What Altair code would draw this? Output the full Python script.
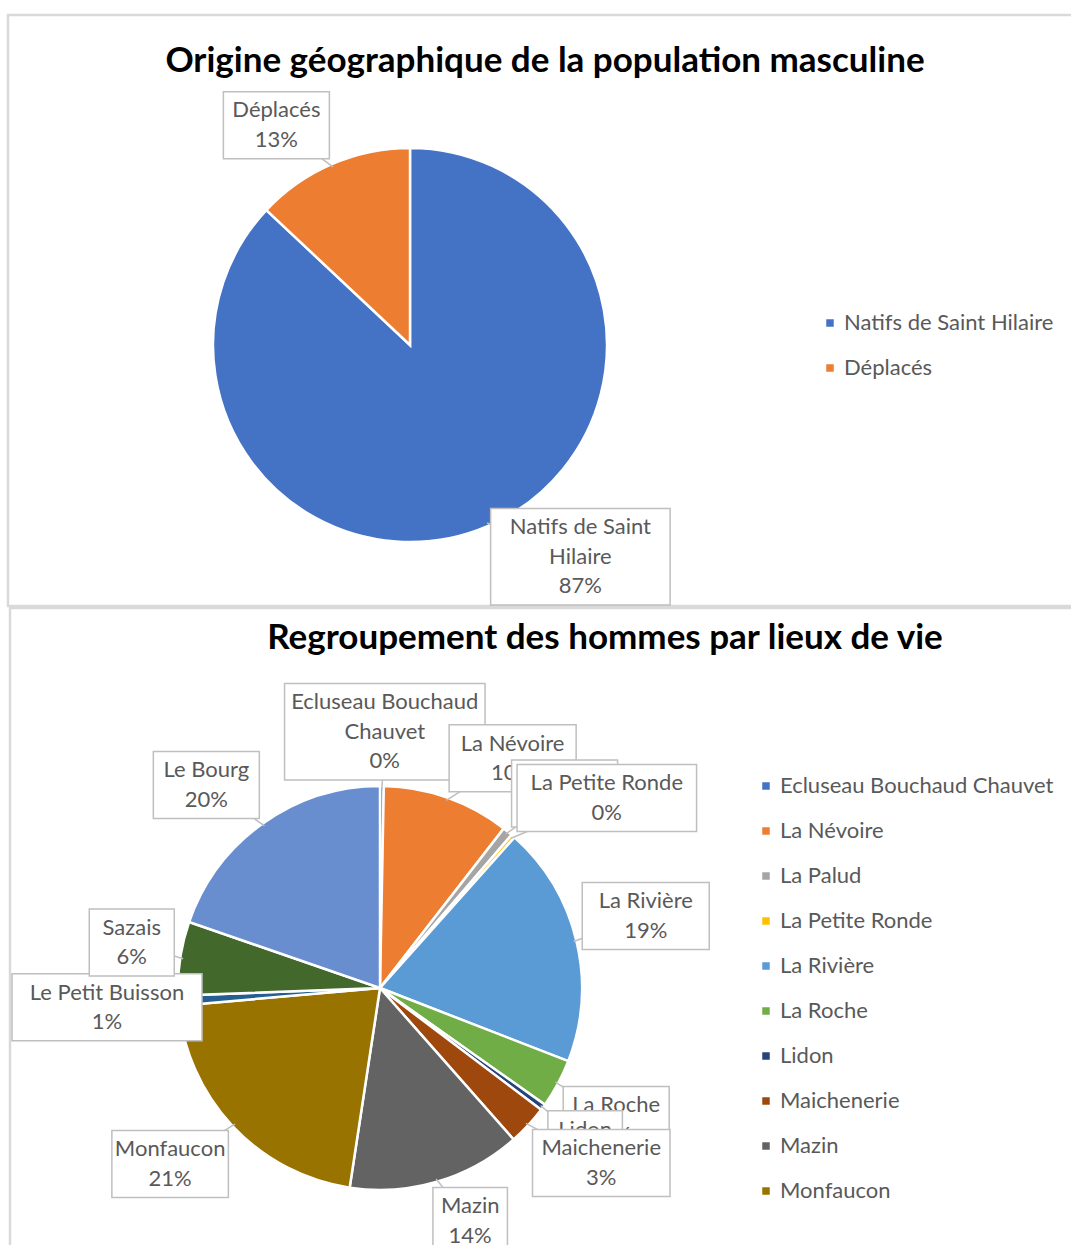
import textwrap
import altair as alt
import pandas as pd

W, H = 1071, 1245

# ---------------- data ----------------
title_top = "Origine géographique de la population masculine"
origin_names = ["Natifs de Saint Hilaire", "Déplacés"]
origin_values = [87, 13]
origin_colors = ["#4472C4", "#ED7D31"]

title_bottom = "Regroupement des hommes par lieux de vie"
place_names = ["Ecluseau Bouchaud Chauvet", "La Névoire", "La Palud", "La Petite Ronde",
               "La Rivière", "La Roche", "Lidon", "Maichenerie", "Mazin", "Monfaucon",
               "Le Petit Buisson", "Sazais", "Le Bourg"]
place_values = [0.3, 10.2, 0.8, 0.3, 19.3, 3.9, 0.5, 3.2, 13.9, 21.2, 0.8, 5.9, 19.7]
place_colors = ["#4472C4", "#ED7D31", "#A5A5A5", "#FFC000", "#5B9BD5", "#70AD47",
                "#264478", "#9E480E", "#636363", "#997300", "#255E91", "#43682B", "#698ED0"]
place_legend_shown = place_names[:10]

FONT = "Lato"
FS = 22
LH = 29.5
TXT = "#595959"
LINE = "#BFBFBF"
FRAME = "#D9D9D9"

xs = alt.Scale(domain=[0, W], nice=False, zero=False)
ys = alt.Scale(domain=[0, H], reverse=True, nice=False, zero=False)


def make_df(names, values):
    rows = []
    for i, (n, v) in enumerate(zip(names, values)):
        lines = textwrap.wrap(n, 17)
        rows.append({
            "idx": i, "name": n, "value": v,
            "wrapped": "\n".join(lines),
            "nlines": len(lines) + 1,
            "maxlen": max(len(s) for s in lines + ["100%"]),
        })
    return pd.DataFrame(rows)


def pie(df, cx, cy, R, names, colors, lx, ly, shown):
    return alt.Chart(df).mark_arc(radius=R, stroke="white", strokeWidth=2.5).encode(
        theta=alt.Theta("value:Q", stack=True),
        order=alt.Order("idx:Q", sort="ascending"),
        color=alt.Color("name:N", scale=alt.Scale(domain=names, range=colors),
                        legend=alt.Legend(title=None, orient="none", legendX=lx, legendY=ly,
                                          symbolType="square", symbolSize=56,
                                          symbolStrokeWidth=0, labelFont=FONT,
                                          labelFontSize=FS, labelColor=TXT,
                                          labelOffset=3, rowPadding=23, padding=0,
                                          labelLimit=500, values=shown)),
        x=alt.value(cx), y=alt.value(cy),
    )


def callouts(df, cx, cy, R, area):
    left, top, right, bottom = area
    g = R + 6
    base = alt.Chart(df).transform_joinaggregate(
        total="sum(value)"
    ).transform_window(
        cum="sum(value)", sort=[alt.SortField("idx", order="ascending")], frame=[None, 0]
    ).transform_calculate(
        mid="(datum.cum - datum.value/2) / datum.total * 2 * PI",
        px=f"{cx} + {g} * sin(datum.mid)",
        py=f"{cy} - {g} * cos(datum.mid)",
        ex=f"{cx} + {R - 3} * sin(datum.mid)",
        ey=f"{cy} - {R - 3} * cos(datum.mid)",
        fx="clamp(3 * sin(datum.mid), -1, 1)",
        fy="clamp(-3 * cos(datum.mid), -1, 1)",
        w="datum.maxlen * 10.5 + 22",
        h=f"datum.nlines * {LH} + 8",
    ).transform_calculate(
        bx=f"clamp(datum.px + datum.fx * datum.w / 2, {left} + datum.w / 2, {right} - datum.w / 2)",
        by=f"clamp(datum.py + datum.fy * datum.h / 2, {top} + datum.h / 2, {bottom} - datum.h / 2)",
        lab="datum.wrapped + '\\n' + format(datum.value / datum.total, '.0%')",
    ).transform_calculate(
        bx1="datum.bx - datum.w / 2", bx2="datum.bx + datum.w / 2",
        by1="datum.by - datum.h / 2", by2="datum.by + datum.h / 2",
        ty=f"datum.by - (datum.nlines - 1) / 2 * {LH}",
    )
    layers = []
    for i in range(len(df)):
        b = base.transform_filter(f"datum.idx == {i}")
        layers.append(b.mark_rule(color=LINE, strokeWidth=1.5).encode(
            x=alt.X("ex:Q", scale=xs, axis=None), y=alt.Y("ey:Q", scale=ys, axis=None),
            x2="bx:Q", y2="by:Q"))
        layers.append(b.mark_rect(fill="white", stroke=LINE, strokeWidth=1.5).encode(
            x=alt.X("bx1:Q", scale=xs, axis=None), x2="bx2:Q",
            y=alt.Y("by1:Q", scale=ys, axis=None), y2="by2:Q"))
        layers.append(b.mark_text(font=FONT, fontSize=FS, color=TXT, lineBreak="\n",
                                  lineHeight=LH, align="center", baseline="middle").encode(
            x=alt.X("bx:Q", scale=xs, axis=None), y=alt.Y("ty:Q", scale=ys, axis=None),
            text="lab:N"))
    return layers


frame_df = pd.DataFrame({"k": [0]})


def frame(x0, y0, x1, y1):
    return alt.Chart(frame_df).mark_rect(fill="white", stroke=FRAME, strokeWidth=2.5).encode(
        x=alt.value(x0), x2=alt.value(x1), y=alt.value(y0), y2=alt.value(y1))


def title(text, x, y):
    return alt.Chart(frame_df).mark_text(font=FONT, fontSize=35, fontWeight="bold",
                                         color="black", align="center",
                                         baseline="middle").encode(
        x=alt.value(x), y=alt.value(y), text=alt.value(text))


df_top = make_df(origin_names, origin_values)
df_bot = make_df(place_names, place_values)

layers = []
layers.append(frame(8, 15, 1090, 606))
layers.append(title(title_top, 545, 61))
layers.append(pie(df_top, 410, 345, 197, origin_names, origin_colors, 819, 312, origin_names))
layers += callouts(df_top, 410, 345, 197, (10, 17, 1071, 605))
layers.append(frame(10, 608, 1090, 1300))
layers.append(title(title_bottom, 605, 638))
layers.append(pie(df_bot, 380, 988, 202, place_names, place_colors, 755, 775, place_legend_shown))
layers += callouts(df_bot, 380, 988, 202, (12, 610, 1071, 1400))

chart = alt.layer(*layers).resolve_scale(
    color="independent", theta="independent"
).properties(
    width=W, height=H, padding=0, autosize=alt.AutoSizeParams(type="none")
).configure_view(stroke=None)

chart.save("out.html", embed_options={"renderer": "svg", "actions": False})
